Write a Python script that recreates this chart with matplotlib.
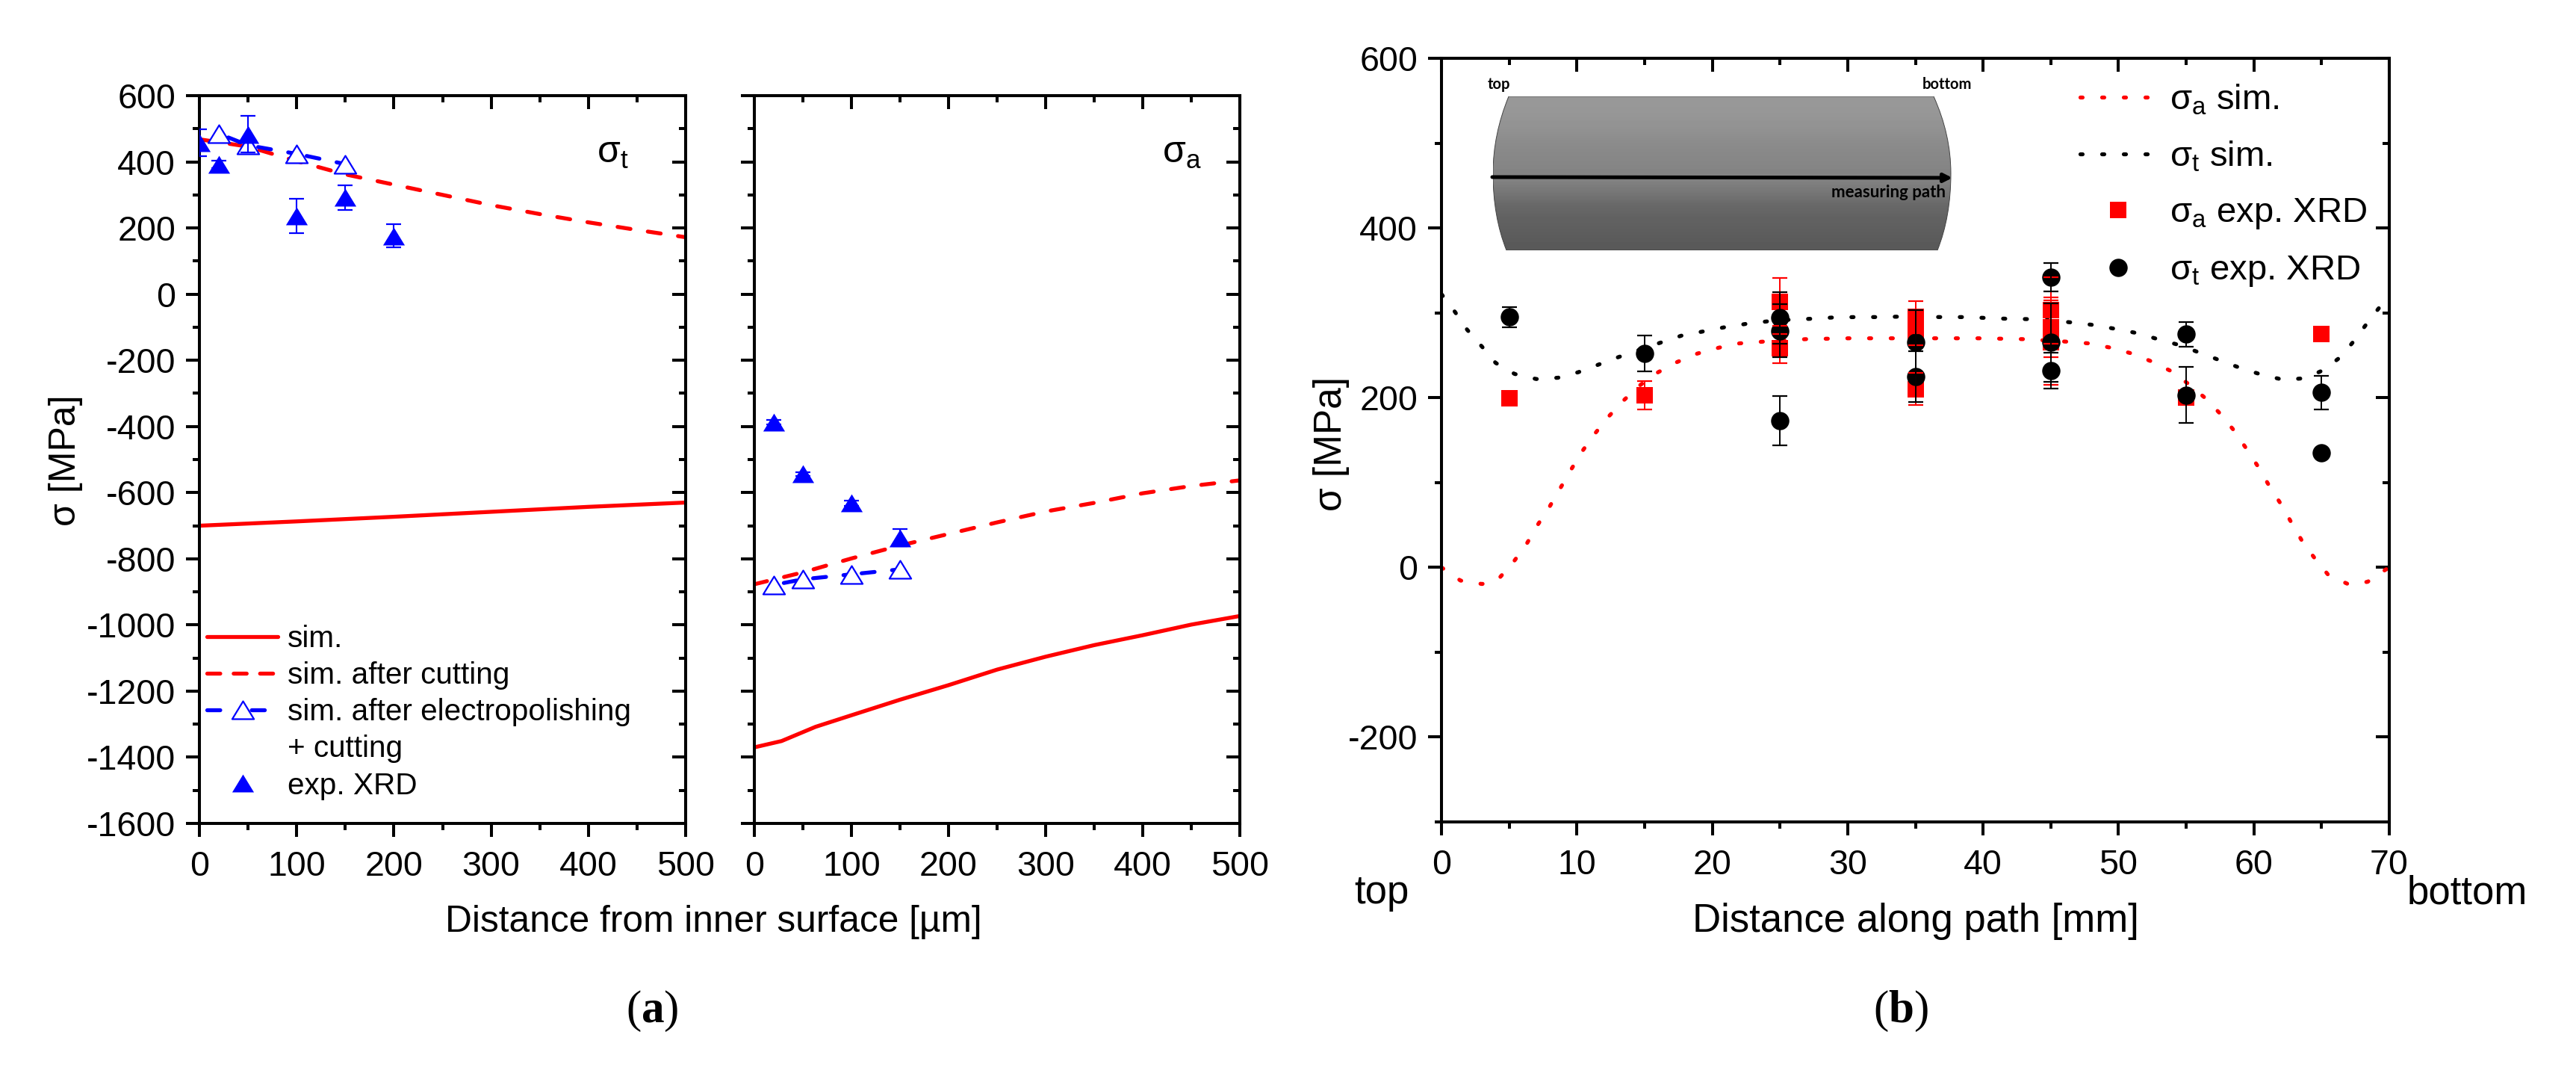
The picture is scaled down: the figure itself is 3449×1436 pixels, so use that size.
import numpy as np
import matplotlib
matplotlib.use("Agg")
import matplotlib.pyplot as plt
from matplotlib.lines import Line2D
from matplotlib.path import Path
from matplotlib.patches import PathPatch

W, H = 3449, 1436
plt.rcParams['font.family'] = ['Liberation Sans', 'DejaVu Sans']
plt.rcParams['mathtext.fontset'] = 'custom'
plt.rcParams['mathtext.rm'] = 'Liberation Sans'
plt.rcParams['mathtext.bf'] = 'Liberation Serif:bold'
plt.rcParams['mathtext.default'] = 'rm'
plt.rcParams['axes.unicode_minus'] = False

# ---- panel (a), sigma_t
t_sim_x = [0, 100, 200, 300, 400, 500]
t_sim = [-700, -687, -673, -658, -643, -630]
t_cut_x = [0, 50, 100, 150, 200, 250, 300, 350, 400, 450, 500]
t_cut = [468, 446, 402, 362, 331, 300, 269, 242, 217, 194, 172]
t_ep_x = [20, 50, 100, 150]
t_ep = [485, 450, 424, 393]
t_xrd_x = [0, 20, 50, 100, 150, 200]
t_xrd = [457, 392, 483, 236, 292, 176]
t_xrd_err = [41, 12, 55, 52, 38, 35]
# ---- panel (a), sigma_a
a_sim_x = [0, 28, 63, 100, 150, 200, 250, 300, 350, 400, 450, 500]
a_sim = [-1370, -1351, -1308, -1273, -1226, -1182, -1135, -1096, -1061, -1031, -999, -973]
a_cut_x = [0, 50, 100, 150, 200, 250, 300, 350, 400, 450, 500]
a_cut = [-877, -841, -799, -760, -725, -690, -657, -631, -602, -580, -563]
a_ep_x = [20, 50, 100, 150]
a_ep = [-879, -862, -847, -832]
a_xrd_x = [20, 50, 100, 150]
a_xrd = [-387, -544, -632, -737]
a_xrd_err = [6, 6, 8, 26]
# ---- panel (b), simulation
b_a_x = [0, 1.4, 3.0, 4.2, 5.3, 6.3, 7.1, 8.0, 8.8, 9.6, 10.4, 11.4, 12.3, 13.4, 14.6, 16.0, 17.4, 18.9,
         20.5, 22.0, 23.7, 26.9, 30.1, 33.3, 36.5, 39.8, 43.0, 46.2, 47.8, 49.4, 51.0, 52.4, 53.8, 55.1,
         56.3, 57.4, 58.5, 59.4, 60.3, 61.1, 62.0, 62.8, 63.6, 64.5, 65.5, 67.0, 68.4, 69.7, 70]
b_a = [0, -15.5, -19.6, -13.8, 6, 28, 50, 72, 94, 116, 137, 159, 177, 196, 214, 230, 242, 252,
       259, 264, 266, 269, 270, 270, 270, 270, 269, 266, 264, 259, 252, 243, 232, 217,
       201, 183, 162, 141, 119, 97, 74.5, 52, 30, 10.6, -9, -20, -17, -3, 0]
b_t_x = [0, 1.0, 1.9, 3.0, 4.0, 5.4, 7.0, 8.6, 10.1, 11.6, 13.1, 16.2, 17.7, 19.3, 20.9, 22.5, 24.1, 25.8,
         27.3, 28.9, 30.5, 32.1, 33.8, 37.0, 38.6, 40.2, 41.8, 43.4, 45.0, 46.6, 48.2, 49.8, 51.4, 52.9,
         54.5, 56.0, 57.5, 59.0, 60.6, 62.2, 63.8, 65.2, 66.4, 67.4, 68.4, 69.4, 70]
b_t = [322, 301, 280, 260, 241, 228, 222, 223.5, 230, 239, 248, 265, 273, 278, 283, 287, 290, 292,
       293, 294.5, 295, 295, 295.5, 295, 295, 294, 293, 292.6, 291, 288.6, 285.6, 281, 276, 269,
       262, 253, 244, 235, 227, 221, 223, 233, 248, 267, 288.6, 309, 320]
# ---- panel (b), XRD
r_x = [5, 15, 25, 25, 35, 35, 35, 45, 45, 45, 55, 65]
r_v = [199, 203, 313, 258, 295, 276, 210, 303, 283, 265, 200, 275]
r_e = [0, 17, 28, 17, 19, 14, 19, 39, 35, 50, 0, 0]
k_x = [5, 15, 25, 25, 25, 35, 35, 45, 45, 45, 55, 55, 65, 65]
k_v = [295, 252, 294, 279, 173, 265, 225, 342, 265, 232, 275, 203, 206, 135]
k_e = [12, 21, 30, 31, 29, 38, 30, 17, 46, 21, 14.5, 33, 20, 0]

RED, BLUE = '#ff0000', '#0000ff'
LW = 3.8
FS = 33.5
TRI = Path([(-1, -0.82), (1, -0.82), (0, 0.82), (-1, -0.82)],
           [Path.MOVETO, Path.LINETO, Path.LINETO, Path.CLOSEPOLY])
MS_TRI = 21
DOT = (0.55, 4.95)


def rect(x0, y0, x1, y1):
    return [x0 / W, 1 - y1 / H, (x1 - x0) / W, (y1 - y0) / H]


def style(ax, xmaj, xmin, ymaj, ymin, ylabels=True):
    ax.set_xticks(xmaj)
    ax.set_xticks(xmin, minor=True)
    ax.set_yticks(ymaj)
    ax.set_yticks(ymin, minor=True)
    ax.tick_params(axis='both', which='major', direction='out', length=13, width=2.9, labelsize=FS)
    ax.tick_params(axis='both', which='minor', direction='out', length=6.5, width=2.9)
    ax.tick_params(axis='x', which='major', pad=13)
    ax.tick_params(axis='y', which='major', pad=10, labelleft=ylabels)
    for s in ax.spines.values():
        s.set_linewidth(2.9)
    top = ax.secondary_xaxis('top')
    right = ax.secondary_yaxis('right')
    top.set_xticks(xmaj)
    top.set_xticks(xmin, minor=True)
    right.set_yticks(ymaj)
    right.set_yticks(ymin, minor=True)
    for sec, a in ((top, 'x'), (right, 'y')):
        sec.tick_params(axis=a, which='major', direction='in', length=13, width=2.9,
                        labeltop=False, labelright=False)
        sec.tick_params(axis=a, which='minor', direction='in', length=6.5, width=2.9)
        for s in sec.spines.values():
            s.set_linewidth(2.9)


def dashed(ax, x, y, color, z):
    ax.plot(x, y, color=color, lw=LW, dashes=(3.3, 4.45), dash_capstyle='round', zorder=z)


def panel_a(ax, sim_x, sim, cut_x, cut, ep_x, ep, xrd_x, xrd, err, ylabels):
    ax.plot(sim_x, sim, color=RED, lw=LW, zorder=2)
    dashed(ax, cut_x, cut, RED, 2)
    for i in range(len(ep_x) - 1):
        ax.plot(ep_x[i:i + 2], ep[i:i + 2], color=BLUE, lw=LW, zorder=2.5,
                linestyle=(5.15, (3.3, 4.45)), dash_capstyle='round')
    ax.plot(ep_x, ep, ls='none', marker=TRI, ms=MS_TRI, mfc='white', mec=BLUE, mew=1.6, zorder=3)
    ax.errorbar(xrd_x, xrd, yerr=err, fmt='none', ecolor=BLUE, elinewidth=1.5, capsize=7.2, capthick=1.6, zorder=4)
    ax.plot(xrd_x, xrd, ls='none', marker=TRI, ms=MS_TRI, mfc=BLUE, mec=BLUE, mew=0, zorder=4)
    ax.set_xlim(0, 500)
    ax.set_ylim(-1600, 600)
    style(ax, list(range(0, 501, 100)), list(range(50, 500, 100)),
          list(range(-1600, 601, 200)), list(range(-1500, 600, 200)), ylabels)


fig = plt.figure(figsize=(W / 100, H / 100), dpi=100, facecolor='white')

ax1 = fig.add_axes(rect(267, 128, 918, 1102))
panel_a(ax1, t_sim_x, t_sim, t_cut_x, t_cut, t_ep_x, t_ep, t_xrd_x, t_xrd, t_xrd_err, True)
ax2 = fig.add_axes(rect(1010, 128, 1660, 1102))
panel_a(ax2, a_sim_x, a_sim, a_cut_x, a_cut, a_ep_x, a_ep, a_xrd_x, a_xrd, a_xrd_err, False)

fig.text(88 / W, 1 - 616 / H, 'σ [MPa]', rotation=90, ha='center', va='center', fontsize=36)
fig.text(955 / W, 1 - 1234 / H, 'Distance from inner surface [µm]', ha='center', va='center', fontsize=35.7)
fig.text(820 / W, 1 - 205 / H, 'σ$_{t}$', ha='center', va='center', fontsize=36)
fig.text(1582 / W, 1 - 205 / H, 'σ$_{a}$', ha='center', va='center', fontsize=36)

handles = [
    Line2D([], [], color=RED, lw=LW, solid_capstyle='round'),
    Line2D([], [], color=RED, lw=LW, dashes=(3.3, 3.4), dash_capstyle='round'),
    Line2D([], [], color=BLUE, lw=LW, dashes=(3.3, 8), dash_capstyle='round',
           marker=TRI, ms=MS_TRI, mfc='white', mec=BLUE, mew=1.6),
    Line2D([], [], color='none'),
    Line2D([], [], ls='none', marker=TRI, ms=MS_TRI, mfc=BLUE, mec=BLUE, mew=0),
]
labels = ['sim.', 'sim. after cutting', 'sim. after electropolishing', '+ cutting', 'exp. XRD']
ax1.legend(handles, labels, loc='upper left', frameon=False, fontsize=29.2, numpoints=1,
           bbox_to_anchor=(277 / W, 1 - 836 / H), bbox_transform=fig.transFigure,
           borderpad=0, borderaxespad=0, handlelength=2.35, handletextpad=0.32, labelspacing=0.275)

# panel (b)
ax3 = fig.add_axes(rect(1930, 78, 3199, 1100))
ax3.plot(b_a_x, b_a, color=RED, lw=LW, dashes=DOT, dash_capstyle='round', zorder=2)
ax3.plot(b_t_x, b_t, color='black', lw=LW, dashes=DOT, dash_capstyle='round', zorder=2)
ax3.plot(r_x, r_v, ls='none', marker='s', ms=16, mfc=RED, mec=RED, mew=0, zorder=3)
ax3.plot(k_x, k_v, ls='none', marker='o', ms=17.6, mfc='black', mec='black', mew=0, zorder=3.5)
rx, rv, re_ = zip(*[t for t in zip(r_x, r_v, r_e) if t[2] > 0])
kx, kv, ke = zip(*[t for t in zip(k_x, k_v, k_e) if t[2] > 0])
ax3.errorbar(rx, rv, yerr=re_, fmt='none', ecolor=RED, elinewidth=1.4, capsize=7.2, capthick=1.6, zorder=4)
ax3.errorbar(kx, kv, yerr=ke, fmt='none', ecolor='black', elinewidth=1.4, capsize=7.2, capthick=1.6, zorder=4)
ax3.set_xlim(0, 70)
ax3.set_ylim(-300, 600)
style(ax3, list(range(0, 71, 10)), list(range(5, 70, 10)),
      list(range(-200, 601, 200)), list(range(-300, 600, 200)))
fig.text(1782 / W, 1 - 594 / H, 'σ [MPa]', rotation=90, ha='center', va='center', fontsize=37)
fig.text(2565 / W, 1 - 1233 / H, 'Distance along path [mm]', ha='center', va='center', fontsize=38)
fig.text(1850 / W, 1 - 1209 / H, 'top', ha='center', va='baseline', fontsize=38)
fig.text(3303 / W, 1 - 1209 / H, 'bottom', ha='center', va='baseline', fontsize=38)

h3 = [
    Line2D([], [], color=RED, lw=LW, dashes=DOT, dash_capstyle='round'),
    Line2D([], [], color='black', lw=LW, dashes=DOT, dash_capstyle='round'),
    Line2D([], [], ls='none', marker='s', ms=16, mfc=RED, mew=0),
    Line2D([], [], ls='none', marker='o', ms=17.6, mfc='black', mew=0),
]
l3 = ['σ$_{a}$ sim.', 'σ$_{t}$ sim.', 'σ$_{a}$ exp. XRD', 'σ$_{t}$ exp. XRD']
ax3.legend(h3, l3, loc='upper left', frameon=False, fontsize=34, numpoints=1,
           bbox_to_anchor=(2785 / W, 1 - 111 / H), bbox_transform=fig.transFigure,
           borderpad=0, borderaxespad=0, handlelength=2.16, handletextpad=0.38, labelspacing=0.65)

# cylinder sketch
cyl = fig.add_axes(rect(1999, 129, 2613, 335), zorder=1.5)
cyl.set_xlim(1999, 2613)
cyl.set_ylim(335, 129)
cyl.axis('off')
shade = [152, 150, 146, 140, 136, 133, 130, 118, 104, 98, 94, 90]
im = cyl.imshow(np.array(shade)[:, None], cmap='gray', vmin=0, vmax=255, aspect='auto',
                extent=(1999, 2613, 335, 129), interpolation='bilinear')
outline = Path([(2020, 129), (2589, 129), (2612, 180), (2612, 232), (2612, 290), (2594, 335),
                (2017, 335), (1999, 290), (1999, 232), (1999, 180), (2020, 129), (2020, 129)],
               [Path.MOVETO, Path.LINETO, Path.CURVE3, Path.CURVE3, Path.CURVE3, Path.CURVE3,
                Path.LINETO, Path.CURVE3, Path.CURVE3, Path.CURVE3, Path.CURVE3, Path.CLOSEPOLY])
patch = PathPatch(outline, fc='none', ec='#444444', lw=0.7, transform=cyl.transData)
cyl.add_patch(patch)
im.set_clip_path(patch)
arrow_ax = fig.add_axes(rect(1990, 100, 2650, 280), zorder=1.6)
arrow_ax.set_xlim(1990, 2650)
arrow_ax.set_ylim(280, 100)
arrow_ax.axis('off')
arrow_ax.annotate('', xy=(2614, 238), xytext=(1998, 237),
                  arrowprops=dict(arrowstyle='-|>,head_length=0.65,head_width=0.33', color='black',
                                  lw=3.6, shrinkA=0, shrinkB=0))
fig.text(2007 / W, 1 - 113 / H, 'top', ha='center', va='center', fontsize=14.5, family='Lato', weight='bold')
fig.text(2607 / W, 1 - 113 / H, 'bottom', ha='center', va='center', fontsize=14.5, family='Lato', weight='bold')
fig.text(2529 / W, 1 - 257 / H, 'measuring path', ha='center', va='center', fontsize=16, family='Lato', weight='bold')

fig.text(873 / W, 1 - 1353 / H, r'($\mathbf{a}$)', ha='center', va='center', fontsize=44, family='Liberation Serif')
fig.text(2545 / W, 1 - 1353 / H, r'($\mathbf{b}$)', ha='center', va='center', fontsize=44, family='Liberation Serif')

fig.savefig('out.png', dpi=100)
